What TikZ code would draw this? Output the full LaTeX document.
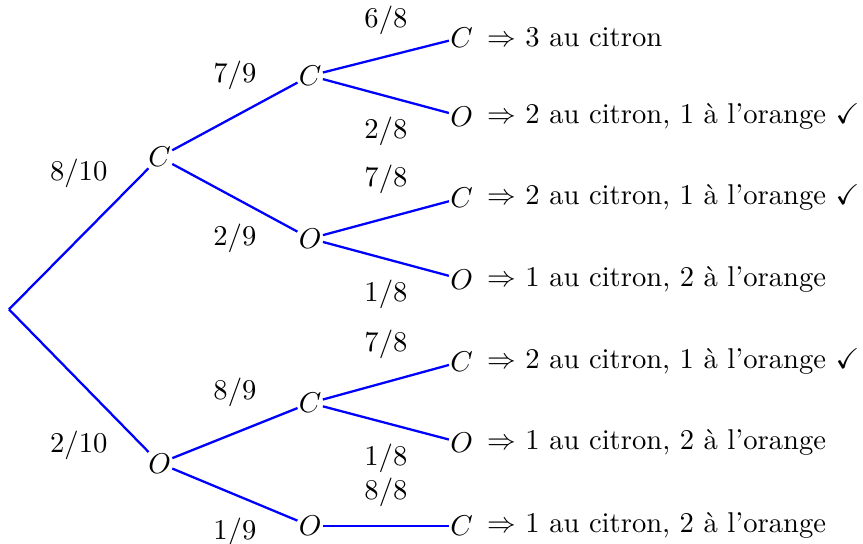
\documentclass[tikz,border=0pt]{standalone}
\usepackage{amsmath}
\usepackage{amssymb}
\usepackage{tikz}
\usetikzlibrary{positioning}

\begin{document}
\begin{tikzpicture}[
    branch/.style={draw=blue, thick},
    ev/.style={inner sep=0.3pt},
    res/.style={ev, label={[label distance=1pt]right:#1}},
    pup/.style={above=#1},
    pdown/.style={below=#1},
  ]
    \useasboundingbox (-0.11,-2.88) rectangle (10.49,3.80);
    % racine et premier tirage
    \coordinate (r) at (0,0);
    \node[ev] (c) at (1.85,1.87) {$C$};
    \node[ev] (o) at (1.85,-1.89) {$O$};
    % deuxieme tirage
    \node[ev] (cc) at (3.7,2.87) {$C$};
    \node[ev] (co) at (3.7,0.87) {$O$};
    \node[ev] (oc) at (3.7,-1.15) {$C$};
    \node[ev] (oo) at (3.7,-2.66) {$O$};
    % troisieme tirage
    \node[res={$\Rightarrow$ 3 au citron}] (ccc) at (5.56,3.34) {$C$};
    \node[res={$\Rightarrow$ 2 au citron, 1 à l'orange $\checkmark$}] (cco) at (5.56,2.37) {$O$};
    \node[res={$\Rightarrow$ 2 au citron, 1 à l'orange $\checkmark$}] (coc) at (5.56,1.37) {$C$};
    \node[res={$\Rightarrow$ 1 au citron, 2 à l'orange}] (coo) at (5.56,0.37) {$O$};
    \node[res={$\Rightarrow$ 2 au citron, 1 à l'orange $\checkmark$}] (occ) at (5.56,-0.64) {$C$};
    \node[res={$\Rightarrow$ 1 au citron, 2 à l'orange}] (oco) at (5.56,-1.64) {$O$};
    \node[res={$\Rightarrow$ 1 au citron, 2 à l'orange}] (ooc) at (5.56,-2.66) {$C$};

    \draw[branch] (r) -- node[pup=14pt] {$8/10$} (c);
    \draw[branch] (r) -- node[pdown=14pt] {$2/10$} (o);
    \draw[branch] (c) -- node[pup=5.5pt] {$7/9$} (cc);
    \draw[branch] (c) -- node[pdown=5.5pt] {$2/9$} (co);
    \draw[branch] (o) -- node[pup=5.5pt] {$8/9$} (oc);
    \draw[branch] (o) -- node[pdown=4.5pt] {$1/9$} (oo);
    \draw[branch] (cc) -- node[pup=4pt] {$6/8$} (ccc);
    \draw[branch] (cc) -- node[pdown=3.5pt] {$2/8$} (cco);
    \draw[branch] (co) -- node[pup=5pt] {$7/8$} (coc);
    \draw[branch] (co) -- node[pdown=3.5pt] {$1/8$} (coo);
    \draw[branch] (oc) -- node[pup=4.5pt] {$7/8$} (occ);
    \draw[branch] (oc) -- node[pdown=3.5pt] {$1/8$} (oco);
    \draw[branch] (oo) -- node[pup=3pt] {$8/8$} (ooc);
  \end{tikzpicture}
\end{document}
